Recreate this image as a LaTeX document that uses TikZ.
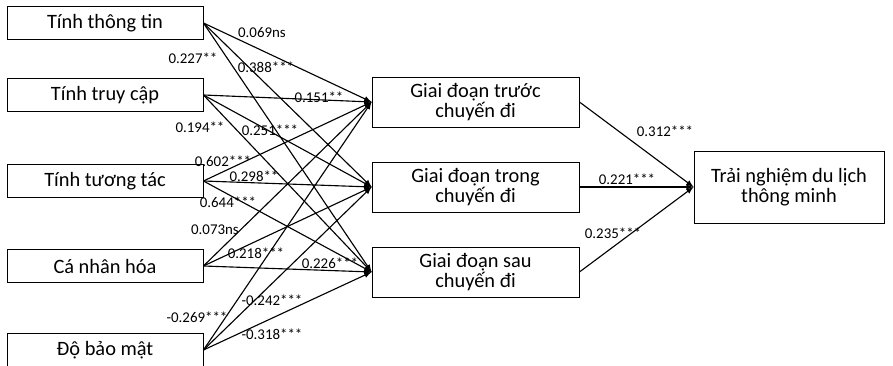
\documentclass[tikz,border=0pt]{standalone}
\usepackage{fontspec}
\setmainfont{Carlito}
\begin{document}
\begin{tikzpicture}[x=0.025cm,y=-0.025cm,line width=0.8pt,
    factor/.style={draw,line width=0.6pt,minimum width=4.9cm,minimum height=0.825cm,
      font=\fontsize{14.5}{14}\selectfont},
    phase/.style={draw,line width=0.6pt,minimum width=5.175cm,minimum height=1.25cm,
      align=center,font=\fontsize{14.5}{14.5}\selectfont},
    coef/.style={font=\fontsize{10.6}{12}\selectfont,inner sep=0pt}]
  \useasboundingbox (0,0) rectangle (893,366);

  % yeu to dau vao
  \node[factor] (info) at (105,23) {Tính thông tin};
  \node[factor] (access) at (105,95) {Tính truy cập};
  \node[factor] (interact) at (105,181) {Tính tương tác};
  \node[factor] (person) at (105,266) {Cá nhân hóa};
  \node[factor] (secure) at (105,350) {Độ bảo mật};

  % cac giai doan
  \node[phase] (pre) at (475.5,102) {Giai đoạn trước\\chuyến đi};
  \node[phase] (during) at (475.5,187) {Giai đoạn trong\\chuyến đi};
  \node[phase] (post) at (475.5,272) {Giai đoạn sau\\chuyến đi};

  \node[draw,line width=0.6pt,minimum width=4.75cm,minimum height=1.8cm,align=center,
    font=\fontsize{14.5}{14}\selectfont] (smart) at (789,187) {Trải nghiệm du lịch\\thông minh};

  \draw[-latex] (info.east) -- (pre.west);
  \draw[-latex] (info.east) -- (during.west);
  \draw[-latex] (info.east) -- (post.west);
  \draw[-latex] (access.east) -- (pre.west);
  \draw[-latex] (access.east) -- (during.west);
  \draw[-latex] (access.east) -- (post.west);
  \draw[-latex] (interact.east) -- (pre.west);
  \draw[-latex] (interact.east) -- (during.west);
  \draw[-latex] (interact.east) -- (post.west);
  \draw[-latex] (person.east) -- (pre.west);
  \draw[-latex] (person.east) -- (during.west);
  \draw[-latex] (person.east) -- (post.west);
  \draw[-latex] (secure.east) -- (pre.west);
  \draw[-latex] (secure.east) -- (during.west);
  \draw[-latex] (secure.east) -- (post.west);

  \draw[-latex] (pre.east) -- (smart.west);
  \draw[-latex] (during.east) -- (smart.west);
  \draw[-latex] (post.east) -- (smart.west);

  % he so duong dan
  \node[coef] (w1) at (262,33) {0.069ns};
  \node[coef] (w2) at (193,58) {0.227**};
  \node[coef] (w3) at (266,67) {0.388***};
  \node[coef] (w4) at (319,97) {0.151**};
  \node[coef] (w5) at (200,127) {0.194**};
  \node[coef] (w6) at (270,130) {0.251***};
  \node[coef] (w7) at (223,161) {0.602***};
  \node[coef] (w8) at (254,176) {0.298**};
  \node[coef] (w9) at (228,202) {0.644***};
  \node[coef] (w10) at (215,230) {0.073ns};
  \node[coef] (w11) at (256,253) {0.218***};
  \node[coef] (w12) at (330,263) {0.226***};
  \node[coef] (w13) at (272,300) {-0.242***};
  \node[coef] (w14) at (197,317) {-0.269***};
  \node[coef] (w15) at (272,334) {-0.318***};
  \node[coef] (w16) at (665,131) {0.312***};
  \node[coef] (w17) at (627,179) {0.221***};
  \node[coef] (w18) at (613,233) {0.235***};
\end{tikzpicture}
\end{document}
